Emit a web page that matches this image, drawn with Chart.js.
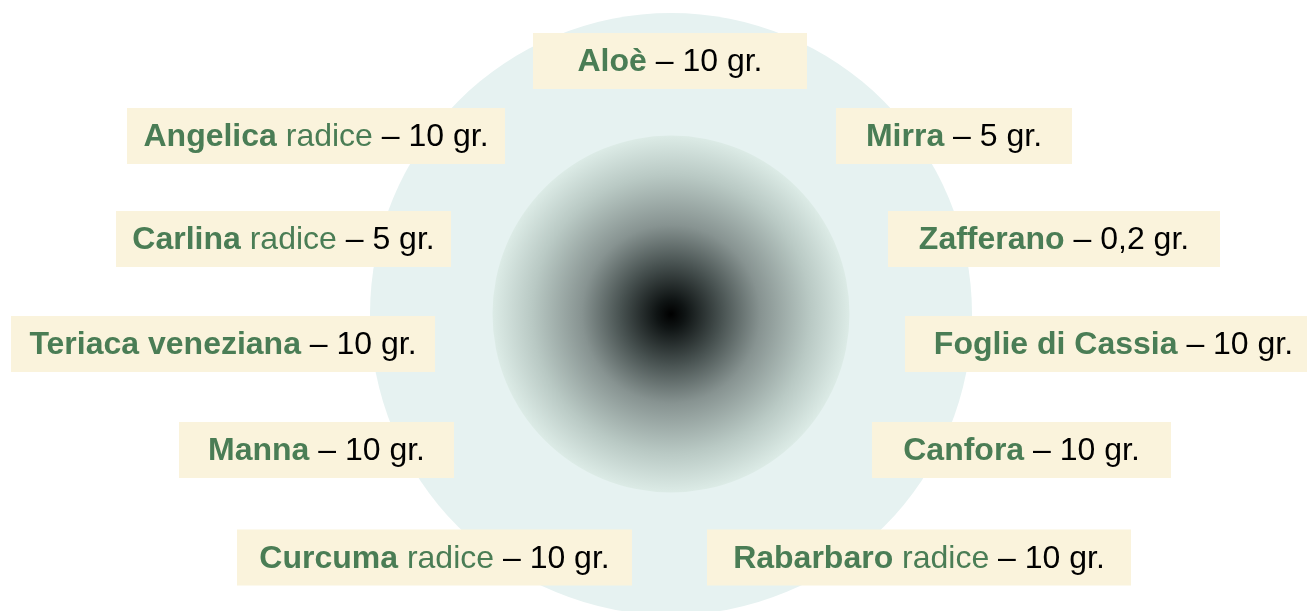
<!DOCTYPE html>
<html>
<head>
<meta charset="utf-8">
<script src="https://cdn.jsdelivr.net/npm/chart.js@4.4.1/dist/chart.umd.min.js"></script>
<style>
  html, body { margin: 0; padding: 0; background: #ffffff; }
  #wrap { width: 1307px; height: 611px; }
</style>
</head>
<body>
<div id="wrap"><canvas id="c" width="1307" height="611"></canvas></div>
<script>
// ---- Data (clockwise from the top) ----
const ingredients = ['Aloè', 'Mirra', 'Zafferano', 'Foglie di Cassia', 'Canfora', 'Rabarbaro', 'Curcuma', 'Manna', 'Teriaca veneziana', 'Carlina', 'Angelica'];
const parts       = ['', '', '', '', '', 'radice', 'radice', '', '', 'radice', 'radice'];
const grams       = [10, 5, 0.2, 10, 10, 10, 10, 10, 10, 5, 10];
const unit        = 'gr.';

// ---- Layout (positions / sizes, in axis units = pixels) ----
const labelX      = [670, 954, 1054, 1113.5, 1021.5, 919, 434.5, 316.5, 223, 283.5, 316];
const labelY      = [61, 136, 239, 344, 450, 557.5, 557.5, 450, 344, 239, 136];
const labelW      = [274, 236, 332, 417, 299, 424, 395, 275, 424, 335, 378];
const labelH      = 56;
const centerX = 671, centerY = 314;
const outerR = 301, innerR = 178.5;

// ---- Styles ----
const GREEN = '#4a7d55';
const CREAM = '#faf3dc';
const HALO  = '#e6f2f1';
const FONT  = '"Liberation Sans", Arial, Helvetica, sans-serif';
const FSIZE = 32;

function fmt(v) { return String(v).replace('.', ',') + ' ' + unit; }

function innerGradient(ctx) {
  const chart = ctx.chart;
  const xs = chart.scales.x, ys = chart.scales.y;
  if (!xs || !ys || !chart.chartArea) return '#8a9694';
  const px = xs.getPixelForValue(centerX), py = ys.getPixelForValue(centerY);
  if (!isFinite(px) || !isFinite(py)) return '#8a9694';
  const g = chart.ctx.createRadialGradient(px, py, 0, px, py, innerR);
  g.addColorStop(0.00, '#000000');
  g.addColorStop(0.08, '#0f1414');
  g.addColorStop(0.28, '#475150');
  g.addColorStop(0.50, '#879391');
  g.addColorStop(0.78, '#b9c9c4');
  g.addColorStop(1.00, '#dcebe6');
  return g;
}

const labelPlugin = {
  id: 'labelBoxes',
  afterDatasetsDraw(chart) {
    const meta = chart.getDatasetMeta(2);
    const c = chart.ctx;
    c.save();
    meta.data.forEach((pt, i) => {
      const cx = pt.x, cy = pt.y;
      const w = labelW[i], h = labelH;
      c.fillStyle = CREAM;
      c.fillRect(cx - w / 2, cy - h / 2, w, h);
      const boldF = 'bold ' + FSIZE + 'px ' + FONT;
      const regF  = FSIZE + 'px ' + FONT;
      const pieces = [
        { t: ingredients[i], f: boldF, col: GREEN },
      ];
      if (parts[i]) pieces.push({ t: ' ' + parts[i], f: regF, col: GREEN });
      pieces.push({ t: ' \u2013 ' + fmt(grams[i]), f: regF, col: '#000000' });
      let total = 0;
      pieces.forEach(p => { c.font = p.f; p.w = c.measureText(p.t).width; total += p.w; });
      let x = cx - total / 2;
      const base = cy + 10;
      c.textBaseline = 'alphabetic';
      c.textAlign = 'left';
      pieces.forEach(p => {
        c.font = p.f; c.fillStyle = p.col;
        c.fillText(p.t, x, base);
        x += p.w;
      });
    });
    c.restore();
  }
};

new Chart(document.getElementById('c'), {
  type: 'bubble',
  data: {
    datasets: [
      {
        label: 'inner',
        data: [{ x: centerX, y: centerY, r: innerR }],
        backgroundColor: innerGradient,
        borderWidth: 0,
        hoverRadius: 0,
        clip: false
      },
      {
        label: 'outer',
        data: [{ x: centerX, y: centerY, r: outerR }],
        backgroundColor: HALO,
        borderWidth: 0,
        hoverRadius: 0,
        clip: false
      },
      {
        label: 'labels',
        type: 'scatter',
        data: ingredients.map((_, i) => ({ x: labelX[i], y: labelY[i] })),
        pointRadius: 0,
        pointHoverRadius: 0,
        clip: false
      }
    ]
  },
  options: {
    responsive: false,
    animation: false,
    events: [],
    layout: { padding: 0, autoPadding: false },
    plugins: { legend: { display: false }, tooltip: { enabled: false } },
    scales: {
      x: { type: 'linear', min: 0, max: 1307, display: false },
      y: { type: 'linear', min: 0, max: 611, reverse: true, display: false }
    }
  },
  plugins: [labelPlugin]
});
</script>
</body>
</html>
